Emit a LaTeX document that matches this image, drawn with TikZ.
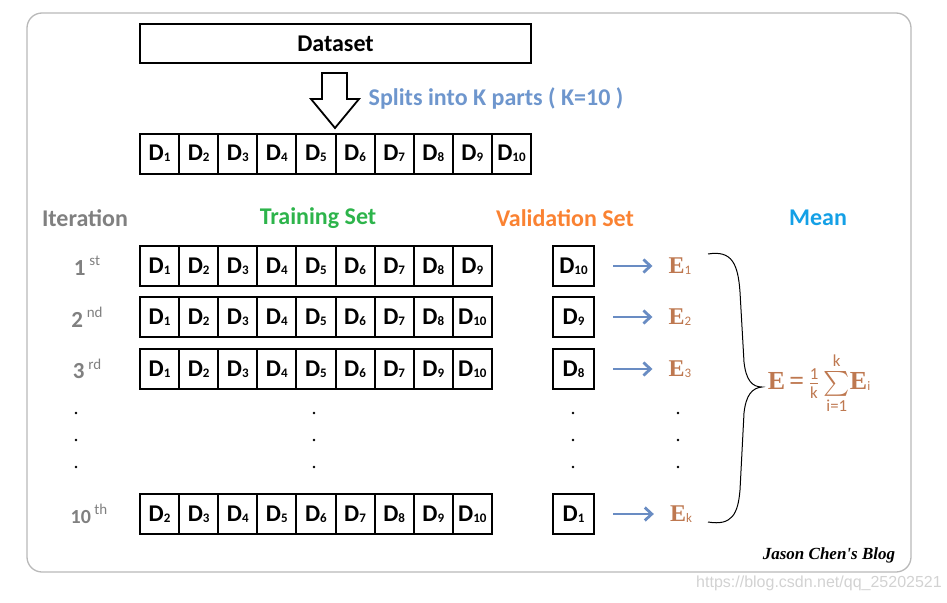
\documentclass[tikz,border=0pt]{standalone}
\usepackage{amsmath}
\usepackage{fontspec}
\setmainfont{Carlito}
\newfontfamily\serifbf{Liberation Serif}
\newfontfamily\urlfont{Liberation Sans}
\newfontfamily\limfont{Carlito}
\usepackage{tikz}
\usetikzlibrary{arrows.meta, positioning}

\definecolor{splitblue}{RGB}{110,150,205}
\definecolor{arrowblue}{RGB}{105,140,195}
\definecolor{itergray}{RGB}{128,128,128}
\definecolor{traingreen}{RGB}{45,180,75}
\definecolor{valorange}{RGB}{250,130,50}
\definecolor{meanblue}{RGB}{20,160,230}
\definecolor{errbrown}{RGB}{190,120,80}

% D with a small subscript digit
\newcommand\dpart[1]{D\raisebox{-1pt}{\fontsize{13}{13}\selectfont #1}}
% small raised ordinal
\newcommand\ordsup[1]{\,\raisebox{0.42em}{\fontsize{15}{15}\selectfont\mdseries #1}}
% small subscript for the errors
\newcommand\esub[1]{\raisebox{-1pt}{\fontsize{13}{13}\selectfont\limfont\mdseries #1}}
% sans text inside the mean formula
\newcommand\limtxt[1]{\text{\limfont\mdseries #1}}

\begin{document}
\begin{tikzpicture}[
      x=1pt, y=-1pt,
      cell/.style  = {draw, line width=2pt, minimum width=39.1pt,
                      minimum height=40pt, inner sep=0pt,
                      font=\fontsize{24}{28}\selectfont\bfseries},
      head/.style  = {font=\fontsize{24}{28}\selectfont\bfseries},
      lbl/.style   = {itergray, font=\fontsize{23}{26}\selectfont\bfseries},
      err/.style   = {errbrown, inner sep=0pt,
                      font=\fontsize{24}{28}\selectfont\serifbf\bfseries},
      arr/.style   = {-{Straight Barb[length=7pt, width=13pt]},
                      line width=2.8pt, arrowblue,
                      shorten <=18pt, shorten >=16pt},
      frame/.style = {draw=gray!55, line width=1.3pt, rounded corners=15pt}
    ]
    \useasboundingbox (0,0) rectangle (947,602);

    % ---- outer frame ----
    \draw[frame] (27,13) rectangle (911,572);

    % ---- dataset split into K parts ----
    \node[cell, minimum width=391pt, minimum height=39pt] (data) at (335.5,43.5) {Dataset};
    \draw[line width=1.8pt] (322,73) -- (347,73) -- (347,99) -- (359,99)
        -- (335,128) -- (311,99) -- (322,99) -- cycle;
    \node[splitblue, font=\fontsize{24}{28}\selectfont\bfseries] (split) at (496,98)
        {Splits into K parts ( K=10 )};
    \foreach \i in {1,...,10}
      \node[cell] (p\i) at ({120.45+39.1*\i},153.5) {\dpart{\i}};

    % ---- column headers ----
    \node[head, itergray]   (hiter)  at (85,218)  {Iteration};
    \node[head, traingreen] (htrain) at (318,218) {Training Set};
    \node[head, valorange]  (hval)   at (565,218) {Validation Set};
    \node[head, meanblue]   (hmean)  at (818,218) {Mean};

    % ---- iteration 1 ----
    \node[lbl] (it1) at (87,266) {1\ordsup{st}};
    \foreach \d [count=\c] in {1,2,3,4,5,6,7,8,9}
      \node[cell] (a\c) at ({120.45+39.1*\c},266) {\dpart{\d}};
    \node[cell, minimum width=41pt] (v1) at (573.5,266) {\dpart{10}};
    \node[err] (e1) at (680,266) {E\esub{1}};
    \draw[arr] (v1) -- (e1);

    % ---- iteration 2 ----
    \node[lbl] (it2) at (87,317) {2\ordsup{nd}};
    \foreach \d [count=\c] in {1,2,3,4,5,6,7,8,10}
      \node[cell] (b\c) at ({120.45+39.1*\c},317) {\dpart{\d}};
    \node[cell, minimum width=41pt] (v2) at (573.5,317) {\dpart{9}};
    \node[err] (e2) at (680,317) {E\esub{2}};
    \draw[arr] (v2) -- (e2);

    % ---- iteration 3 ----
    \node[lbl] (it3) at (87,369) {3\ordsup{rd}};
    \foreach \d [count=\c] in {1,2,3,4,5,6,7,9,10}
      \node[cell] (c\c) at ({120.45+39.1*\c},369) {\dpart{\d}};
    \node[cell, minimum width=41pt] (v3) at (573.5,369) {\dpart{8}};
    \node[err] (e3) at (680,369) {E\esub{3}};
    \draw[arr] (v3) -- (e3);

    % ---- skipped iterations ----
    \foreach \x in {76,314,573,678}
      \foreach \y in {413,440,467}
        \fill (\x,\y) circle (1.4pt);

    % ---- iteration 10 ----
    \node[lbl, font=\fontsize{20}{24}\selectfont\bfseries] (it10) at (89,514) {10\ordsup{th}};
    \foreach \d [count=\c] in {2,3,4,5,6,7,8,9,10}
      \node[cell] (k\c) at ({120.45+39.1*\c},514) {\dpart{\d}};
    \node[cell, minimum width=41pt] (v10) at (573.5,514) {\dpart{1}};
    \node[err] (ek) at (681,514) {E\esub{k}};
    \draw[arr] (v10) -- (ek);

    % ---- brace and mean ----
    \draw[line width=1pt] (708,254) .. controls (732,250) and (738,264) .. (740,292)
        -- (744,362) .. controls (746,380) and (752,387) .. (762,387)
        .. controls (752,388) and (746,395) .. (744,413)
        -- (740,490) .. controls (738,514) and (732,526) .. (708,522);
    \node[errbrown, font=\fontsize{26}{30}\selectfont\serifbf\bfseries] (mean) at (819,383)
        {E\,=\,{\fontsize{24}{28}\selectfont$\tfrac{\limtxt{1}}{\limtxt{k}}\sum\limits_{\limtxt{i=1}}^{\limtxt{k}}$}E\esub{i}};

    % ---- signature ----
    \node[font=\fontsize{17}{20}\selectfont\serifbf\bfseries\itshape] (sign) at (829,555) {Jason Chen's Blog};
    \node[gray!35, font=\fontsize{16}{19}\selectfont\urlfont] (url) at (819,583) {https://blog.csdn.net/qq\_25202521};

  \end{tikzpicture}
\end{document}
